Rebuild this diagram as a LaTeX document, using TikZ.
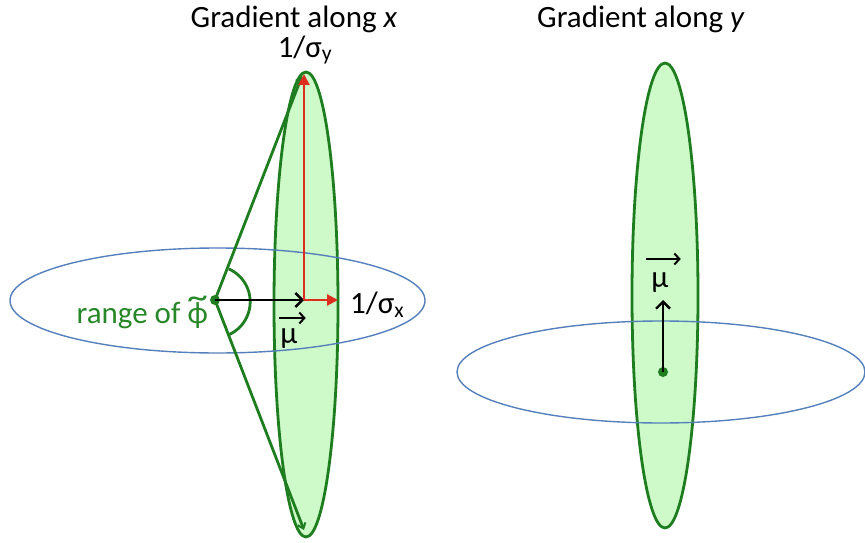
\documentclass[tikz,border=0pt]{standalone}
\usepackage{fontspec}
\setmainfont{Carlito}
\usetikzlibrary{arrows.meta,calc}
\definecolor{gfill}{RGB}{205,250,200}
\definecolor{gline}{RGB}{30,125,30}
\definecolor{bline}{RGB}{85,128,188}
\definecolor{rline}{RGB}{220,45,30}
\definecolor{tgreen}{RGB}{40,135,40}
\newcommand\tildephi{\ooalign{ϕ\cr\hidewidth\raisebox{0.5em}{\scalebox{1.35}[1.1]{\textasciitilde}}\hidewidth\cr}}
\begin{document}
\begin{tikzpicture}[x=1pt,y=-1pt,
  greenell/.style={draw=gline,fill=gfill,line width=2.8pt},
  blueell/.style={draw=bline,line width=1.4pt},
  dotnode/.style={circle,fill=gline,inner sep=0pt,minimum size=10pt},
  blk/.style={draw=black,line width=2.4pt,-{Straight Barb[length=7pt,width=14pt,line width=2.4pt]}},
  redarr/.style={draw=rline,line width=2.2pt,-{Triangle[length=11pt,width=11pt]}},
  garc/.style={draw=gline,line width=2.8pt},
  garr/.style={draw=gline,line width=2.8pt,-{Straight Barb[length=5pt,width=8pt,line width=2pt]}},
  lbl/.style={font=\fontsize{31}{36}\selectfont,inner sep=0pt},
  vecarr/.style={draw=black,line width=2pt,-{Straight Barb[length=5pt,width=11pt,line width=2pt]}}]
\useasboundingbox (0,0) rectangle (865,543);
% titles
\node[lbl] (t1) at (294,19) {Gradient along \textit{x}};
\node[lbl] (t2) at (641,19) {Gradient along \textit{y}};
% left panel
\path[greenell] (306,304.5) ellipse [x radius=32, y radius=232.5];
\path[blueell] (217.5,300.5) ellipse [x radius=207.5, y radius=52.5];
\node[dotnode] (d1) at (215,300) {};
\coordinate (o1) at (304,300);
\coordinate (top1) at (304,74);
\coordinate (rx1) at (338,300);
\coordinate (gtop) at (302,76);
\coordinate (gbot) at (304,530);
\draw[garr] (d1.center) -- (gtop);
\draw[garr] (d1.center) -- (gbot);
\draw[garc] (d1.center) ++(-66:34) arc[start angle=-66, end angle=66, radius=36];
\draw[blk] (d1.center) -- (o1);
\draw[redarr] (o1) -- (top1);
\draw[redarr] (o1) -- (rx1);
\node[lbl] (sy) at (305,50) {1/σ\textsubscript{y}};
\node[lbl,anchor=west] (sx) at (350,305) {1/σ\textsubscript{x}};
\node[lbl] (mu1) at (289,339) {μ};
\draw[vecarr] ($(mu1.west)+(-1,-21)$) -- ($(mu1.east)+(8,-21)$);
\node[lbl,text=tgreen,anchor=east] (rng) at (208,316) {range of \tildephi};
% right panel
\path[greenell] (665,295.5) ellipse [x radius=33, y radius=232.5];
\path[blueell] (661,372) ellipse [x radius=204, y radius=51];
\node[dotnode] (d2) at (663,372) {};
\coordinate (up2) at (663,300);
\draw[blk] (d2.center) -- (up2);
\node[lbl] (mu2) at (660,283) {μ};
\draw[vecarr] ($(mu2.west)+(-5,-24)$) -- ($(mu2.east)+(12,-24)$);
\end{tikzpicture}
\end{document}
